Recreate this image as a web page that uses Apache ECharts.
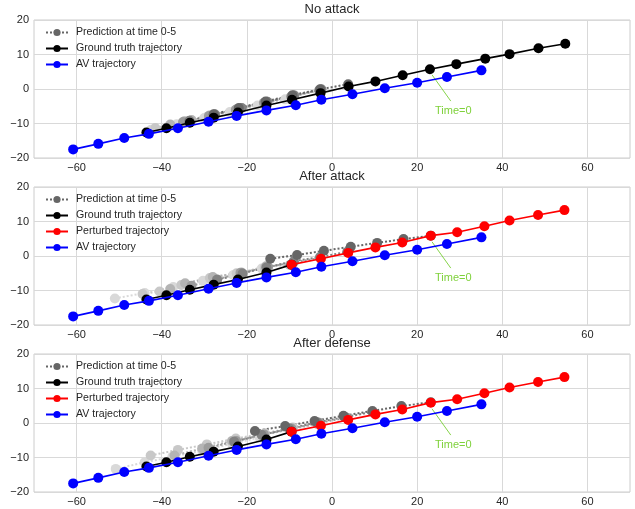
<!DOCTYPE html>
<html>
<head>
<meta charset="utf-8">
<script src="https://cdn.jsdelivr.net/npm/echarts@6/dist/echarts.min.js"></script>
<style>
html,body{margin:0;padding:0;background:#fff;}
#chart{width:635px;height:509px;}
</style>
</head>
<body>
<div id="chart"></div>
<script>
// ---------- DATA ----------
var titles = ['No attack', 'After attack', 'After defense'];
var xTicks = [-60, -40, -20, 0, 20, 40, 60];
var yTicks = [-20, -10, 0, 10, 20];

// Ground truth trajectory (No attack)
var gtX = [-43.6, -38.9, -33.4, -27.8, -22.1, -15.4, -9.4, -2.7, 3.9, 10.2, 16.6, 23.0, 29.2, 36.0, 41.7, 48.5, 54.8];
var gtY = [-12.6, -11.4, -9.8, -8.3, -6.8, -4.8, -3.1, -1.2, 0.7, 2.2, 4.0, 5.7, 7.2, 8.8, 10.1, 11.8, 13.1];
// Ground truth history shown in attack / defense panels
var gtHistX = [-43.6, -38.9, -33.4, -27.8, -22.1, -15.4, -9.5];
var gtHistY = [-12.6, -11.4, -9.8, -8.3, -6.8, -4.8, -2.5];
// Perturbed trajectory
var pertX = [-9.5, -2.6, 3.8, 10.2, 16.5, 23.2, 29.4, 35.8, 41.7, 48.4, 54.6];
var pertY = [-2.5, -0.8, 0.9, 2.5, 3.9, 5.9, 6.9, 8.6, 10.3, 11.9, 13.3];
// AV trajectory
var avX = [-60.8, -54.9, -48.8, -43.0, -36.2, -29.0, -22.4, -15.4, -8.5, -2.5, 4.8, 12.4, 20.0, 27.0, 35.1];
var avY = [-17.5, -15.9, -14.2, -13.0, -11.4, -9.5, -7.8, -6.2, -4.7, -3.1, -1.5, 0.2, 1.8, 3.5, 5.4];

// Predictions at time 0..5 (light -> dark)
var predNoAttack0 = [[-42.5, -11.8], [-36.5, -10.2], [-30.0, -8.4], [-24.0, -6.7], [-17.5, -4.8], [-11.0, -3.0]];
var predNoAttack1 = [[-41.5, -11.3], [-34.6, -9.3], [-28.7, -7.6], [-22.4, -5.9], [-15.8, -4.0], [-9.2, -2.2]];
var predNoAttack2 = [[-38.0, -10.3], [-33.0, -9.0], [-27.5, -7.3], [-21.5, -5.5], [-15.2, -3.7], [-8.8, -1.9]];
var predNoAttack3 = [[-35.0, -9.6], [-28.9, -7.8], [-22.6, -6.0], [-16.0, -4.0], [-9.6, -2.2], [-3.0, -0.4]];
var predNoAttack4 = [[-33.5, -9.2], [-27.5, -7.4], [-21.2, -5.5], [-15.2, -3.7], [-8.9, -1.9], [-2.5, -0.1]];
var predNoAttack5 = [[-27.8, -7.3], [-21.9, -5.5], [-15.6, -3.6], [-9.3, -1.8], [-2.8, -0.1], [3.8, 1.4]];

var predAttack0 = [[-51.0, -12.3], [-44.0, -10.7], [-37.3, -9.0], [-30.3, -7.2], [-23.2, -5.5], [-16.5, -3.6]];
var predAttack1 = [[-44.5, -11.0], [-40.5, -10.3], [-35.4, -8.4], [-28.7, -6.4], [-22.4, -5.0], [-15.8, -3.4]];
var predAttack2 = [[-38.0, -9.6], [-34.5, -7.9], [-28.0, -6.1], [-21.3, -4.8], [-15.5, -3.0], [-9.9, -2.6]];
var predAttack3 = [[-33.0, -8.6], [-27.0, -6.8], [-21.5, -4.9], [-15.0, -3.2], [-9.0, -1.8], [-2.8, -0.6]];
var predAttack4 = [[-27.0, -6.9], [-21.0, -5.1], [-15.4, -3.3], [-9.0, -1.5], [-2.8, -0.3], [3.6, 1.2]];
var predAttack5 = [[-14.5, -0.8], [-8.2, 0.3], [-1.9, 1.5], [4.4, 2.7], [10.6, 3.8], [16.8, 4.9], [23.2, 5.9]];

var predDefense0 = [[-50.8, -13.3], [-44.0, -11.4], [-37.5, -9.8], [-30.5, -8.0], [-23.5, -6.0], [-17.0, -4.2]];
var predDefense1 = [[-42.6, -9.4], [-36.2, -7.8], [-29.4, -6.2], [-22.6, -4.5], [-15.8, -3.0], [-9.2, -1.3]];
var predDefense2 = [[-37.0, -9.4], [-30.5, -7.4], [-23.5, -5.2], [-16.5, -3.5], [-10.0, -1.9], [-3.5, -0.3]];
var predDefense3 = [[-29.0, -7.2], [-22.5, -5.2], [-16.0, -3.3], [-9.5, -1.6], [-3.0, 0.1], [3.5, 1.5]];
var predDefense4 = [[-23.0, -5.4], [-16.5, -3.5], [-10.0, -1.6], [-3.5, 0.2], [3.0, 1.7], [9.5, 3.2]];
var predDefense5 = [[-18.1, -2.3], [-11.0, -0.9], [-4.1, 0.6], [2.7, 2.1], [9.5, 3.5], [16.3, 4.9], [23.2, 6.0]];

// Time=0 annotation (arrow from -> to, text position)
var arrowFrom = [27.9, -3.5];
var arrowTo = [23.5, 4.1];
var annotText = [28.5, -6.4];

// ---------- BUILD ----------
var predGroups = [
  [predNoAttack0, predNoAttack1, predNoAttack2, predNoAttack3, predNoAttack4, predNoAttack5],
  [predAttack0, predAttack1, predAttack2, predAttack3, predAttack4, predAttack5],
  [predDefense0, predDefense1, predDefense2, predDefense3, predDefense4, predDefense5]
];
var predColors = ['#d9d9d9', '#c8c8c8', '#b4b4b4', '#9c9c9c', '#828282', '#666666'];
var PRED = 'Prediction at time 0-5', GT = 'Ground truth trajectory', PERT = 'Perturbed trajectory', AV = 'AV trajectory';

function zip(a, b) { return a.map(function (v, i) { return [v, b[i]]; }); }
function minus(v) { return String(v).replace('-', '\u2212'); }

var FONT = 'Liberation Sans, Arial, sans-serif';
var TXT = '#262626';
var tops = [20, 187, 354];
var H = 138;

var grids = [], xAxes = [], yAxes = [], series = [], legends = [], titleArr = [];

function line(name, g, data, color, opts) {
  opts = opts || {};
  return {
    type: 'line', name: name, xAxisIndex: g, yAxisIndex: g, data: data,
    symbol: 'circle', symbolSize: 10, showSymbol: true, animation: false,
    itemStyle: { color: color },
    lineStyle: { color: color, width: opts.dotted ? 2 : 1.6, type: opts.dotted ? 'dotted' : 'solid' },
    emphasis: { disabled: true }, z: opts.z || 2
  };
}

for (var g = 0; g < 3; g++) {
  grids.push({ left: 34, right: 5, top: tops[g], height: H, show: true, borderColor: '#cccccc', borderWidth: 1, backgroundColor: '#fff' });
  xAxes.push({
    type: 'value', gridIndex: g, min: -70, max: 70,
    axisLine: { show: false },
    axisTick: { show: false, customValues: xTicks },
    axisLabel: { customValues: xTicks, formatter: minus, color: TXT, fontSize: 11, fontFamily: FONT, margin: 4 },
    splitLine: { show: true, lineStyle: { color: '#d9d9d9', width: 1 } }
  });
  yAxes.push({
    type: 'value', gridIndex: g, min: -20, max: 20, interval: 10,
    axisLine: { show: false }, axisTick: { show: false },
    axisLabel: { formatter: minus, color: TXT, fontSize: 11, fontFamily: FONT, margin: 5 },
    splitLine: { show: true, lineStyle: { color: '#d9d9d9', width: 1 } }
  });
  titleArr.push({ text: titles[g], left: 332, textAlign: 'center', top: tops[g] - 17, padding: 0,
    textStyle: { fontSize: 13, fontWeight: 'normal', color: TXT, fontFamily: FONT } });

  // predictions
  var preds = predGroups[g];
  for (var k = 0; k < preds.length; k++) {
    series.push(line(k === preds.length - 1 ? PRED : 'pred' + g + '_' + k, g, preds[k], predColors[k], { dotted: true, z: 2 }));
  }
  if (g === 0) {
    series.push(line(GT, g, zip(gtX, gtY), '#000000', { z: 3 }));
  } else {
    series.push(line(GT, g, zip(gtHistX, gtHistY), '#000000', { z: 3 }));
    series.push(line(PERT, g, zip(pertX, pertY), '#ff0000', { z: 4 }));
  }
  var av = line(AV, g, zip(avX, avY), '#0000ff', { z: 5 });
  av.markLine = {
    silent: true, animation: false, symbol: ['none', 'arrow'], symbolSize: [0, 7],
    lineStyle: { color: '#86d44a', width: 1, type: 'solid' }, label: { show: false },
    data: [[{ coord: arrowFrom }, { coord: arrowTo }]]
  };
  av.markPoint = {
    silent: true, animation: false,
    data: [{ coord: annotText, symbol: 'rect', symbolSize: 1, itemStyle: { color: 'rgba(0,0,0,0)' },
      label: { show: true, position: 'inside', formatter: 'Time=0', color: '#7fd13b', fontSize: 11, fontFamily: FONT } }]
  };
  series.push(av);

  var names = g === 0 ? [PRED, GT, AV] : [PRED, GT, PERT, AV];
  legends.push({
    orient: 'vertical', left: 45, top: tops[g] + 6, padding: 0,
    itemWidth: 22, itemHeight: 9, itemGap: 3,
    textStyle: { fontSize: 10.6, color: TXT, fontFamily: FONT, lineHeight: 13, padding: [0, 0, 0, 3] },
    data: names.map(function (n) {
      if (n === PRED) return { name: n, itemStyle: { color: '#666666' }, lineStyle: { color: '#666666', type: 'dotted', width: 2 } };
      return { name: n };
    }),
    selectedMode: false
  });
}

var chart = echarts.init(document.getElementById('chart'), null, { renderer: 'canvas' });
chart.setOption({
  animation: false,
  backgroundColor: '#ffffff',
  title: titleArr,
  grid: grids,
  xAxis: xAxes,
  yAxis: yAxes,
  legend: legends,
  series: series
});
</script>
</body>
</html>
